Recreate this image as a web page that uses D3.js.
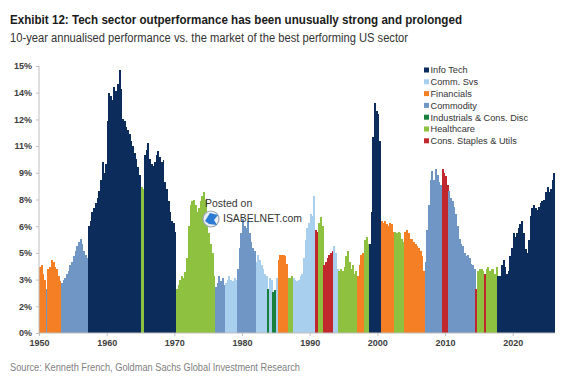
<!DOCTYPE html>
<html>
<head>
<meta charset="utf-8">
<script src="https://cdn.jsdelivr.net/npm/d3@7"></script>
<style>
  body { margin: 0; background: #fff; }
  text { font-family: "Liberation Sans", Arial, sans-serif; }
</style>
</head>
<body>
<div id="chart"></div>
<script>
// quarterly 10y annualised outperformance (%), one array per decade
const perf1950s = [3.7, 3.8, 3.3, 3.0, 2.5, 3.6, 3.7, 4.1, 4.0, 3.7, 3.6, 3.2, 2.9, 2.8, 3.0, 3.1,
  3.3, 3.5, 3.8, 4.0, 4.3, 4.6, 4.9, 5.1, 5.3, 5.0, 4.6, 4.4, 4.2, 6.0, 6.3, 6.8,
  7.0, 7.3, 7.6, 8.0, 8.6, 9.6, 9.0, 9.5];
const perf1960s = [11.9, 13.5, 13.3, 13.1, 13.8, 13.6, 14.0, 14.8, 13.7, 12.0, 11.9, 11.6,
  11.4, 11.2, 10.8, 10.5, 10.1, 9.8, 9.3, 8.9, 8.2, 8.1, 10.0, 10.3, 10.7, 9.8, 9.5, 9.4,
  9.6, 10.0, 10.2, 9.9, 9.6, 9.7, 8.5, 8.1, 7.4, 6.8, 6.3, 6.2];
const perf1970s = [5.7, 2.5, 2.7, 3.0, 3.2, 3.1, 3.4, 4.2, 6.0, 7.2, 7.4, 7.5, 7.2, 6.8, 7.0, 7.4,
  7.7, 7.9, 7.5, 6.4, 5.6, 5.0, 4.5, 3.2, 2.6, 2.8, 3.2, 2.9, 3.1, 2.7, 2.8, 3.0,
  3.2, 3.0, 2.9, 3.1, 3.0, 3.6, 4.8, 5.6];
const perf1980s = [6.4, 6.0, 5.9, 6.3, 5.6, 5.1, 4.8, 4.6, 4.0, 4.4, 4.1, 3.8, 3.6, 3.3, 3.2, 2.5,
  3.1, 3.0, 2.3, 2.4, 3.1, 4.1, 4.4, 4.4, 4.4, 4.3, 3.9, 3.1, 3.1, 3.2, 3.1, 3.0,
  2.9, 3.0, 3.2, 3.3, 4.2, 5.2, 5.9, 6.2];
const perf1990s = [6.7, 6.6, 7.7, 5.8, 5.7, 6.2, 6.5, 6.0, 3.8, 4.0, 4.2, 4.4, 4.5, 4.6, 4.9, 4.5,
  3.6, 3.5, 3.6, 3.5, 3.7, 4.3, 4.6, 4.0, 3.6, 3.8, 3.3, 3.5, 3.2, 3.8, 4.4, 4.5,
  5.2, 5.4, 5.0, 5.0, 6.8, 11.0, 12.9, 12.5];
const perf2000s = [12.3, 10.8, 6.3, 6.2, 6.3, 6.1, 6.0, 6.2, 6.1, 5.7, 5.7, 5.6, 5.7, 5.6, 5.3, 5.1,
  5.7, 5.8, 5.6, 5.3, 5.3, 5.1, 5.0, 4.9, 4.8, 4.6, 4.3, 3.5, 4.0, 5.8, 7.2, 8.6,
  9.1, 8.6, 9.2, 8.9, 8.5, 8.3, 9.2, 9.0];
const perf2010s = [8.8, 8.3, 8.0, 7.6, 7.4, 7.1, 6.7, 6.0, 5.3, 5.0, 4.9, 4.5, 4.3, 4.4, 4.2, 3.9,
  3.8, 3.6, 2.5, 3.5, 3.6, 3.6, 3.5, 3.3, 3.6, 3.7, 3.5, 3.6, 3.6, 3.3, 3.7, 3.2,
  3.2, 3.8, 4.1, 3.7, 3.3, 3.5, 4.3, 4.8];
const perf2020s = [5.6, 5.4, 5.6, 5.9, 6.1, 6.3, 5.6, 4.7, 4.5, 5.2, 6.6, 7.0, 7.2, 7.0, 6.9, 7.1,
  7.3, 7.4, 7.5, 7.9, 8.2, 7.9, 8.1, 8.6, 9.0];

// best performing sector, from the quarter it took over
const sectorRuns = [
  [1950.0, "Financials"], [1951.0, "Commodity"], [1951.25, "Financials"], [1953.25, "Commodity"],
  [1957.25, "Info Tech"], [1965.0, "Healthcare"], [1965.5, "Info Tech"], [1970.25, "Healthcare"],
  [1976.0, "Commodity"], [1977.5, "Comm. Svs"], [1979.25, "Commodity"], [1982.0, "Comm. Svs"],
  [1983.75, "Industrials & Cons. Disc"], [1984.0, "Comm. Svs"], [1984.5, "Industrials & Cons. Disc"],
  [1985.0, "Comm. Svs"], [1985.25, "Financials"], [1986.75, "Healthcare"], [1987.5, "Comm. Svs"],
  [1990.75, "Cons. Staples & Utils"], [1991.25, "Healthcare"], [1992.0, "Cons. Staples & Utils"],
  [1993.5, "Comm. Svs"], [1994.25, "Healthcare"], [1997.0, "Financials"], [1998.0, "Healthcare"],
  [1998.75, "Info Tech"], [2000.5, "Financials"], [2002.5, "Healthcare"], [2004.0, "Financials"],
  [2007.0, "Commodity"], [2009.5, "Cons. Staples & Utils"], [2010.5, "Commodity"],
  [2014.5, "Cons. Staples & Utils"], [2014.75, "Healthcare"], [2015.75, "Cons. Staples & Utils"],
  [2016.0, "Healthcare"], [2017.75, "Info Tech"]
];

const sectors = ["Info Tech", "Comm. Svs", "Financials", "Commodity",
  "Industrials & Cons. Disc", "Healthcare", "Cons. Staples & Utils"];
const sectorColors = ["#0c2d5b", "#a8d0ee", "#f47f24", "#7096c6", "#17803d", "#8dc13f", "#c1282d"];

const yTicks = [0, 1.5, 3, 4.5, 6, 7.5, 9, 10.5, 12, 13.5, 15];
const xTicks = [1950, 1960, 1970, 1980, 1990, 2000, 2010, 2020];

const title = "Exhibit 12: Tech sector outperformance has been unusually strong and prolonged";
const subtitle = "10-year annualised performance vs. the market of the best performing US sector";
const source = "Source: Kenneth French, Goldman Sachs Global Investment Research";

const values = [].concat(perf1950s, perf1960s, perf1970s, perf1980s, perf1990s, perf2000s, perf2010s, perf2020s);
const dataset = values.map((v, i) => {
  const t = 1950 + i * 0.25;
  let sector = sectorRuns[0][1];
  sectorRuns.forEach((r) => { if (r[0] <= t + 1e-9) sector = r[1]; });
  return { t: t, v: v, sector: sector };
});

const width = 565, height = 386;

const xScale = d3.scaleLinear().domain([1950, 2026.25]).range([39, 555]);
const yScale = d3.scaleLinear().domain([0, 15]).range([333, 66]);
const color = d3.scaleOrdinal().domain(sectors).range(sectorColors);

const svg = d3.select("#chart").append("svg")
  .attr("width", width)
  .attr("height", height);

svg.append("text").attr("x", 10).attr("y", 24)
  .attr("font-size", 12.5).attr("font-weight", "bold").attr("fill", "#1a1a1a")
  .attr("textLength", 452).attr("lengthAdjust", "spacingAndGlyphs")
  .text(title);

svg.append("text").attr("x", 10).attr("y", 42)
  .attr("font-size", 12).attr("fill", "#333")
  .attr("textLength", 398).attr("lengthAdjust", "spacingAndGlyphs")
  .text(subtitle);

// bars
svg.append("g").attr("shape-rendering", "crispEdges")
  .selectAll("rect")
  .data(dataset)
  .enter()
  .append("rect")
  .attr("x", (d) => xScale(d.t))
  .attr("y", (d) => yScale(d.v))
  .attr("width", (d) => xScale(d.t + 0.25) - xScale(d.t) + 0.3)
  .attr("height", (d) => yScale(0) - yScale(d.v))
  .attr("fill", (d) => color(d.sector));

// axes
const yAxis = d3.axisLeft(yScale).tickValues(yTicks).tickSize(3).tickPadding(4)
  .tickFormat((d) => Math.round(d + 1e-9) + "%");
const xAxis = d3.axisBottom(xScale).tickValues(xTicks).tickSize(3).tickPadding(4)
  .tickFormat(d3.format("d"));

const gy = svg.append("g").attr("transform", "translate(39,0)").call(yAxis);
const gx = svg.append("g").attr("transform", "translate(0,333)").call(xAxis);

[gy, gx].forEach((g) => {
  g.select(".domain").attr("stroke", "#bfbfbf");
  g.selectAll(".tick line").attr("stroke", "#bfbfbf");
  g.selectAll(".tick text")
    .attr("fill", "#404040")
    .attr("font-size", 9)
    .attr("font-weight", "bold")
    .attr("font-family", "Liberation Sans, Arial, sans-serif");
});
gy.select(".domain").attr("d", "M0,333V66");
gx.select(".domain").attr("d", "M39,0H555");

// legend
const legend = svg.append("g").attr("transform", "translate(424,70)");
sectors.forEach((s, i) => {
  legend.append("rect").attr("x", 0).attr("y", i * 11.8 - 2.5)
    .attr("width", 5).attr("height", 5).attr("fill", color(s));
  legend.append("text").attr("x", 6.5).attr("y", i * 11.8 + 3.3)
    .attr("font-size", 9.2).attr("fill", "#333").text(s);
});

// watermark
const wm = svg.append("g");
wm.append("text").attr("x", 205).attr("y", 207).attr("font-size", 10.5).attr("fill", "#333").text("Posted on");
wm.append("circle").attr("cx", 211).attr("cy", 219).attr("r", 8)
  .attr("fill", "#e8eef4").attr("stroke", "#9aa5b1").attr("stroke-width", 1.2);
wm.append("path").attr("d", "M205,221 L210,213 L218,215 L214,220 L217,225 L209,224 Z").attr("fill", "#2b7ad3");
wm.append("text").attr("x", 223).attr("y", 222).attr("font-size", 10.5).attr("fill", "#333")
  .attr("textLength", 79).attr("lengthAdjust", "spacingAndGlyphs").text("ISABELNET.com");

svg.append("text").attr("x", 10).attr("y", 371)
  .attr("font-size", 10).attr("fill", "#7f7f7f")
  .attr("textLength", 290).attr("lengthAdjust", "spacingAndGlyphs")
  .text(source);
</script>
</body>
</html>
